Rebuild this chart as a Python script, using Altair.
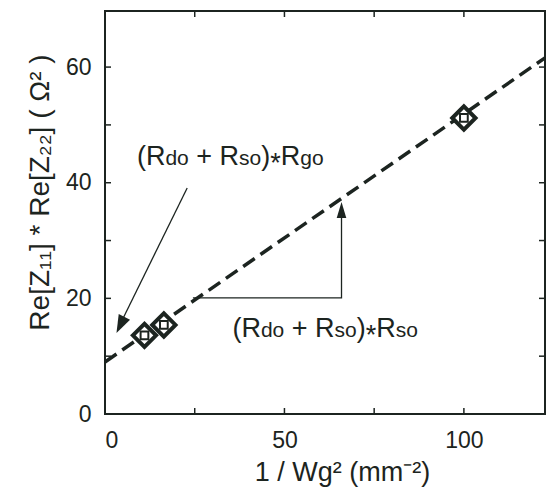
import altair as alt
import pandas as pd

# data points (diamonds)
x_pts = [11.0, 16.4, 100.0]
y_pts = [13.6, 15.4, 51.2]
# fitted dashed line endpoints
fit_x = [0.0, 122.6]
fit_y = [9.0, 61.6]
# ticks and labels
x_ticks = [0, 25, 50, 75, 100]
y_ticks = [0, 10, 20, 30, 40, 50, 60]
x_labels = [0, 50, 100]
y_labels = [0, 20, 40, 60]
# annotation texts, split into main-size and subscript pieces
ann1_pieces = ["(R", "do", "+", "R", "so", ")", "*", "R", "go"]
ann2_pieces = ["(R", "do", "+", "R", "so", ")", "*", "R", "so"]
piece_is_sub = [False, True, False, False, True, False, False, False, True]
piece_space_before = [0, 0, 1, 1, 0, 0, 0, 0, 0]
ann_x = [8.9, 35.5]      # left edge of each annotation
ann_y = [43.1, 13.3]     # baseline of each annotation
arrow1_x = [22.9, 4.6]
arrow1_y = [39.1, 16.0]
arrow1_head = [4.3, 15.4]
arrow2_x = [24.5, 65.9, 65.9]
arrow2_y = [20.1, 20.1, 35.3]
arrow2_head = [65.9, 35.3]

W, H = 440, 403
INK = "#1c2420"
FONT = "Liberation Sans"
BIG, SMALL = 27, 21
# Arial/Liberation Sans advance widths (em) used to lay out the text pieces
ADV = {"(": .333, ")": .333, "R": .722, "d": .556, "o": .556, " ": .278, "+": .584,
       "s": .5, "g": .556, "*": .389}

xs = alt.Scale(domain=[0, 122.6], nice=False, zero=False)
ys = alt.Scale(domain=[0, 69.7], nice=False, zero=False)

pts = pd.DataFrame({"x": x_pts, "y": y_pts})
fit = pd.DataFrame({"x": fit_x, "y": fit_y})
xt = pd.DataFrame({"x": x_ticks})
yt = pd.DataFrame({"y": y_ticks})
a1 = pd.DataFrame({"x": arrow1_x, "y": arrow1_y, "i": list(range(len(arrow1_x)))})
a2 = pd.DataFrame({"x": arrow2_x, "y": arrow2_y, "i": list(range(len(arrow2_x)))})
h1 = pd.DataFrame({"x": [arrow1_head[0]], "y": [arrow1_head[1]]})
h2 = pd.DataFrame({"x": [arrow2_head[0]], "y": [arrow2_head[1]]})

X = alt.X("x:Q", scale=xs, axis=alt.Axis(
    values=x_labels, title="1 / Wg\u00b2 (mm\u207b\u00b2)", grid=False, domain=False,
    tickSize=0, labelPadding=15, labelFontSize=23, labelColor=INK, labelFont=FONT,
    titleFontSize=27, titleFont=FONT, titleFontWeight="normal", titleColor=INK,
    titleX=237, titleY=66, titleBaseline="alphabetic", titleAlign="center"))
Y = alt.Y("y:Q", scale=ys, axis=alt.Axis(
    values=y_labels, title="Re[Z\u2081\u2081] * Re[Z\u2082\u2082] ( \u03a9\u00b2 )", grid=False,
    domain=False, tickSize=0, labelPadding=14, labelFontSize=23, labelColor=INK,
    labelFont=FONT, titleFontSize=28, titleFont=FONT, titleFontWeight="normal",
    titleColor=INK, titleX=-57, titleY=181, titleBaseline="alphabetic", titleAlign="center",
    titleAngle=-90))

line = alt.Chart(fit).mark_line(color=INK, strokeWidth=3.5, strokeDash=[14, 7]).encode(x=X, y=Y)

diam = alt.Chart(pts).mark_point(shape="diamond", size=540, filled=False, fill="white",
                                 fillOpacity=1, stroke=INK, strokeWidth=4, opacity=1).encode(
    x=alt.X("x:Q", scale=xs), y=alt.Y("y:Q", scale=ys))
inner = alt.Chart(pts).mark_point(shape="square", size=60, filled=False, stroke=INK,
                                  strokeWidth=2, opacity=1).encode(
    x=alt.X("x:Q", scale=xs), y=alt.Y("y:Q", scale=ys))

xb = alt.Chart(xt).mark_rule(color=INK, strokeWidth=1.5).encode(
    x=alt.X("x:Q", scale=xs), y=alt.value(H), y2=alt.value(H - 6))
xtop = alt.Chart(xt).mark_rule(color=INK, strokeWidth=1.5).encode(
    x=alt.X("x:Q", scale=xs), y=alt.value(0), y2=alt.value(6))
yl = alt.Chart(yt).mark_rule(color=INK, strokeWidth=1.5).encode(
    y=alt.Y("y:Q", scale=ys), x=alt.value(0), x2=alt.value(6))
yr = alt.Chart(yt).mark_rule(color=INK, strokeWidth=1.5).encode(
    y=alt.Y("y:Q", scale=ys), x=alt.value(W - 6), x2=alt.value(W))

arr1 = alt.Chart(a1).mark_line(color=INK, strokeWidth=1.3).encode(
    x=alt.X("x:Q", scale=xs), y=alt.Y("y:Q", scale=ys), order="i:Q")
arr2 = alt.Chart(a2).mark_line(color=INK, strokeWidth=1.3).encode(
    x=alt.X("x:Q", scale=xs), y=alt.Y("y:Q", scale=ys), order="i:Q")
head1 = alt.Chart(h1).mark_point(shape="M0,-1L0.7,1L-0.7,1Z", size=324, filled=True,
                                 color=INK, opacity=1, angle=206).encode(
    x=alt.X("x:Q", scale=xs), y=alt.Y("y:Q", scale=ys))
head2 = alt.Chart(h2).mark_point(shape="M0,-1L0.6,1L-0.6,1Z", size=256, filled=True,
                                 color=INK, opacity=1, angle=0).encode(
    x=alt.X("x:Q", scale=xs), y=alt.Y("y:Q", scale=ys))

# annotation text pieces laid out left to right
text_layers = []
off = 0.0
for k, is_sub in enumerate(piece_is_sub):
    fs = SMALL if is_sub else BIG
    off += piece_space_before[k] * ADV[" "] * BIG
    df = pd.DataFrame({"x": ann_x, "y": ann_y, "t": [ann1_pieces[k], ann2_pieces[k]]})
    dy = 7 if ann1_pieces[k] == "*" else 0
    text_layers.append(
        alt.Chart(df).mark_text(fontSize=fs, font=FONT, color=INK, align="left",
                                baseline="alphabetic", dx=off, dy=dy).encode(
            x=alt.X("x:Q", scale=xs), y=alt.Y("y:Q", scale=ys), text="t:N"))
    off += sum(ADV[c] for c in ann1_pieces[k]) * fs

chart = alt.layer(line, arr1, arr2, head1, head2, diam, inner, xb, xtop, yl, yr,
                  *text_layers).properties(
    width=W, height=H,
    autosize=alt.AutoSizeParams(type="none"),
    padding={"left": 105, "top": 11, "right": 2, "bottom": 76},
    background="white",
).configure_view(stroke=INK, strokeWidth=2)

chart.save("out.html", embed_options={"renderer": "svg", "actions": False})
